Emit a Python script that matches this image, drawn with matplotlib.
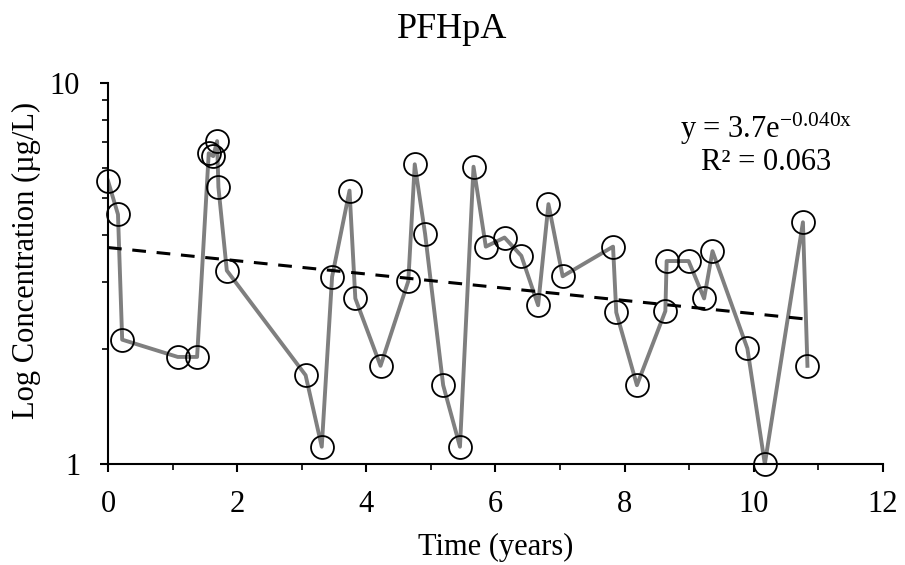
import matplotlib
matplotlib.use("Agg")
import numpy as np
import matplotlib.pyplot as plt
from matplotlib.ticker import LogLocator, NullFormatter, MultipleLocator, FixedLocator, FuncFormatter

plt.rcParams['font.family'] = ['Liberation Serif', 'DejaVu Serif']
plt.rcParams['mathtext.fontset'] = 'custom'
plt.rcParams['mathtext.rm'] = 'Liberation Serif'
plt.rcParams['mathtext.it'] = 'Liberation Serif'

# sampling times (years) and PFHpA concentrations (ug/L)
time_yr = [0.0, 0.155, 0.22, 1.08, 1.38, 1.56, 1.63, 1.69, 1.71, 1.84,
           3.06, 3.31, 3.47, 3.74, 3.83, 4.22, 4.65, 4.75, 4.91, 5.19,
           5.45, 5.66, 5.85, 6.14, 6.40, 6.66, 6.82, 7.04, 7.82, 7.87,
           8.19, 8.63, 8.65, 8.99, 9.23, 9.36, 9.90, 10.17, 10.76, 10.83]
conc = [5.54, 4.52, 2.12, 1.91, 1.91, 6.54, 6.43, 7.04, 5.33, 3.22,
        1.71, 1.11, 3.10, 5.22, 2.72, 1.81, 3.02, 6.12, 4.02, 1.61,
        1.11, 6.03, 3.72, 3.93, 3.52, 2.61, 4.81, 3.11, 3.72, 2.50,
        1.61, 2.52, 3.41, 3.41, 2.72, 3.62, 2.01, 1.00, 4.31, 1.81]

# exponential trendline y = a*exp(b*x)
fit_a = 3.7
fit_b = -0.040
r_squared = 0.063

fig = plt.figure(figsize=(9.05, 5.65), dpi=100)
ax = fig.add_axes([0.1193, 0.1788, 0.8564, 0.6742])

ax.plot(time_yr, conc, color='#7f7f7f', lw=2.8, zorder=2)
ax.plot(time_yr, conc, ls='none', marker='o', ms=16.5, mfc='none',
        mec='black', mew=1.3, zorder=3, clip_on=False)

xt = np.linspace(min(time_yr), max(time_yr), 100)
ax.plot(xt, fit_a * np.exp(fit_b * xt), color='black', lw=2.2,
        ls=(0, (4.5, 3.5)), zorder=4)

ax.set_yscale('log')
ax.set_xlim(0, 12)
ax.set_ylim(1, 10)
ax.xaxis.set_major_locator(MultipleLocator(2))
ax.xaxis.set_minor_locator(FixedLocator([1, 3, 5, 7, 9, 11]))
ax.yaxis.set_major_locator(FixedLocator([1, 10]))
ax.yaxis.set_major_formatter(FuncFormatter(lambda v, p: f"{v:g}"))
ax.yaxis.set_minor_locator(LogLocator(base=10, subs=np.arange(2, 10)))
ax.yaxis.set_minor_formatter(NullFormatter())

for side in ['top', 'right']:
    ax.spines[side].set_visible(False)
for side in ['left', 'bottom']:
    ax.spines[side].set_linewidth(1.5)

ax.tick_params(which='major', direction='out', length=6, width=1.5,
               labelsize=22)
ax.tick_params(axis='x', which='major', pad=13)
ax.tick_params(axis='y', which='major', pad=14)
ax.tick_params(which='minor', direction='out', length=4.5, width=1.2)

ax.set_xlabel('Time (years)', fontsize=22)
ax.xaxis.label.set_va('baseline')
ax.xaxis.set_label_coords(0.5, -0.239)
ax.set_ylabel('Log Concentration (µg/L)', fontsize=22)
ax.yaxis.label.set_va('center')
ax.yaxis.set_label_coords(-0.105, 0.535)

fig.text(0.5, 1 - 38 / 565, 'PFHpA', ha='center', va='baseline', fontsize=26)

ax.text(0.849, 0.856, r'y = 3.7e$^{-0.040x}$', transform=ax.transAxes,
        ha='center', va='baseline', fontsize=22)
ax.text(0.849, 0.772, f'R² = {r_squared:.3f}', transform=ax.transAxes,
        ha='center', va='baseline', fontsize=22)

fig.savefig('out.png', dpi=100)
